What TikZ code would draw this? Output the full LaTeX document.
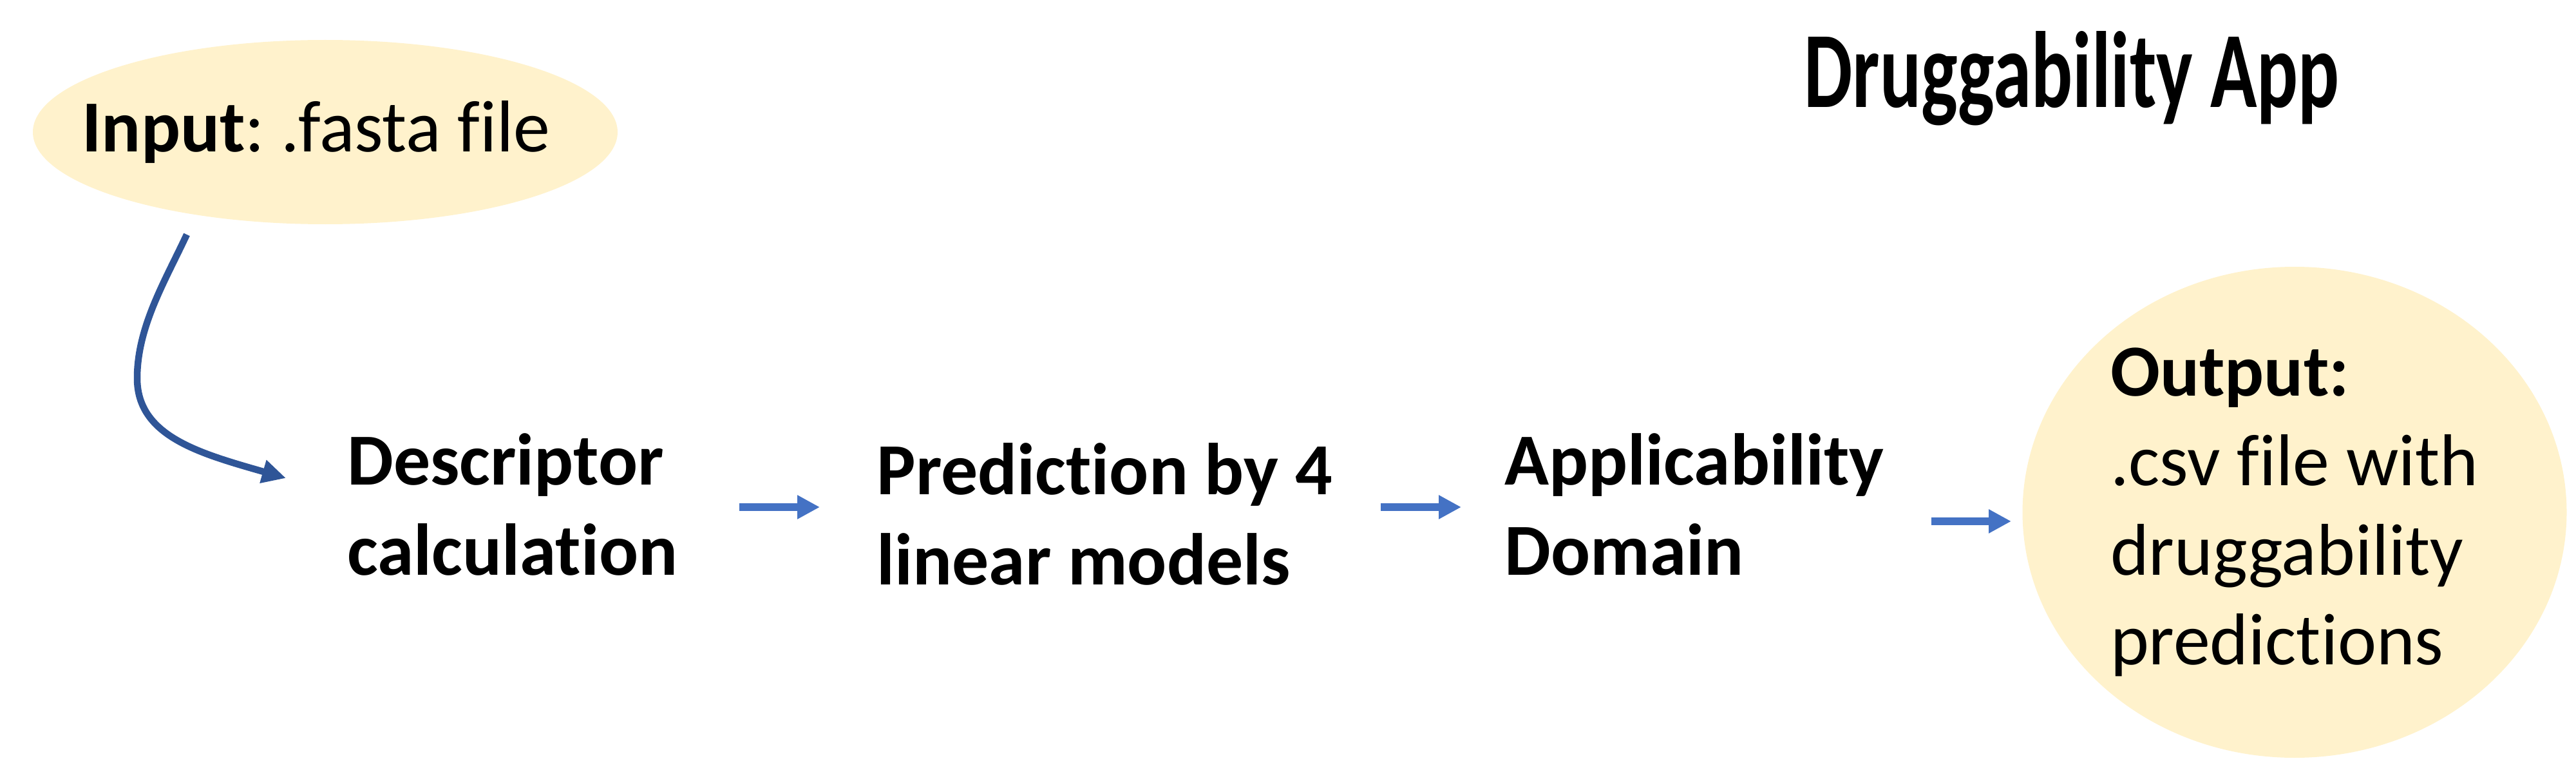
\documentclass[tikz,border=0pt]{standalone}
\usepackage{fontspec}
\setmainfont{Carlito}[Ligatures={NoCommon, NoContextual}]
\usepackage{xcolor}
\usepackage{graphicx}
\usetikzlibrary{arrows.meta, shapes.geometric}

\definecolor{bubblefill}{HTML}{FFF2CC}
\definecolor{flowblue}{HTML}{4472C4}
\definecolor{curveblue}{HTML}{2F5597}

\frenchspacing
\begin{document}
\begin{tikzpicture}[thick]
  \tikzset{
    stage/.style={anchor=base west, align=left, inner sep=0pt,
                  font=\bfseries\fontsize{32.4}{39.6}\selectfont},
    bubble/.style={ellipse, fill=bubblefill, inner sep=0pt},
    bubbletext/.style={align=left, inner sep=0pt,
                       font=\fontsize{32.4}{39.6}\selectfont},
    flow/.style={flowblue, line width=0.12cm,
                 -{Triangle[length=0.35cm, width=0.35cm]}},
    feed/.style={curveblue, line width=0.105cm,
                 -{Triangle[length=0.37cm, width=0.35cm]}}
  }
  \useasboundingbox (0, 0) rectangle (40, -11.81);

  % title
  \node [anchor=base west, inner sep=0pt] (title) at (28.00, -1.67)
        {\resizebox{8.31cm}{1.18cm}{\bfseries Druggability App}};

  % input and output
  \node [bubble, minimum width=9.08cm, minimum height=2.86cm] (fasta)
        at (5.05, -2.05) {};
  \node [bubbletext] (fasta-text) at ([xshift=-0.14cm]fasta.center)
        {\textbf{Input}: .fasta file};
  \node [bubble, minimum width=8.45cm, minimum height=7.62cm] (result)
        at (35.63, -7.95) {};
  \node [bubbletext] (result-text) at (result.center)
        {\textbf{Output:}\\.csv file with\\druggability\\predictions};

  % pipeline steps (base = last line)
  \node [stage] (desc) at (5.38, -8.92) {Descriptor\\calculation};
  \node [stage] (pred) at (13.60, -9.07) {Prediction by 4\\linear models};
  \node [stage] (appl) at (23.35, -8.92) {Applicability\\Domain};

  \coordinate (fasta-out) at (2.90, -3.64);
  \coordinate (bend) at (2.13, -5.87);
  \coordinate (desc-in) at (4.44, -7.42);

  \draw [feed] (fasta-out) .. controls +(245:0.8) and +(90:0.8) .. (bend)
               .. controls +(270:0.9) and +(164:1.4) .. (desc-in);

  \foreach \i/\a/\b/\y in {1/11.48/12.73/-7.87, 2/21.44/22.69/-7.87,
                           3/29.99/31.23/-8.09} {
    \coordinate (from-\i) at (\a, \y);
    \coordinate (to-\i) at (\b, \y);
    \draw [flow] (from-\i) -- (to-\i);
  }
\end{tikzpicture}
\end{document}
